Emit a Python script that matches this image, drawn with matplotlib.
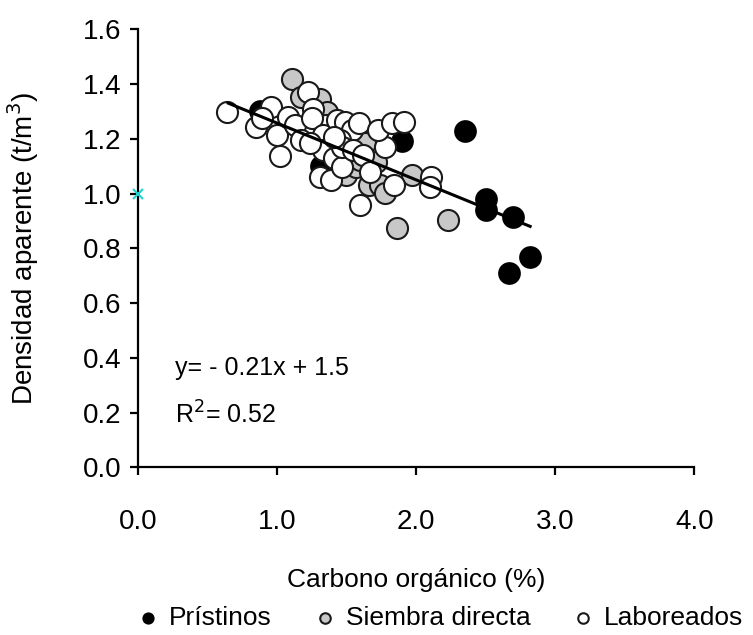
import matplotlib.pyplot as plt

plt.rcParams['font.family'] = ['Liberation Sans', 'DejaVu Sans']

# Prístinos
pri_x = [0.88, 1.32, 1.90, 2.35, 2.50, 2.50, 2.70, 2.82, 2.67]
pri_y = [1.30, 1.10, 1.19, 1.23, 0.98, 0.94, 0.915, 0.77, 0.71]

# Siembra directa
sd_x = [1.11, 1.31, 1.36, 1.17, 1.50, 1.63, 1.57, 1.66, 1.74, 1.78, 1.97, 1.86, 2.23, 1.71, 1.60]
sd_y = [1.417, 1.344, 1.299, 1.353, 1.067, 1.183, 1.098, 1.031, 1.031, 1.001, 1.067, 0.873, 0.903, 1.116, 1.122]

# Laboreados
lab_x = [0.64, 0.96, 0.85, 1.00, 1.02, 1.08, 1.13, 1.17, 1.22, 1.26, 1.35, 1.25, 1.33, 1.43,
         1.49, 1.54, 1.59, 1.45, 1.33, 1.31, 1.39, 1.41, 1.47, 1.47, 1.55, 1.62, 1.67, 1.84,
         1.78, 1.73, 1.83, 1.91, 2.11, 2.10, 1.60, 1.24, 0.89, 1.41]
lab_y = [1.299, 1.317, 1.244, 1.214, 1.137, 1.280, 1.250, 1.195, 1.372, 1.307, 1.250, 1.274,
         1.214, 1.268, 1.262, 1.232, 1.256, 1.195, 1.159, 1.061, 1.049, 1.128, 1.098, 1.171,
         1.159, 1.141, 1.080, 1.031, 1.171, 1.232, 1.256, 1.262, 1.061, 1.025, 0.958, 1.183,
         1.274, 1.207]

# recta de ajuste
line_x = [0.65, 2.82]
line_y = [1.33, 0.88]

xticks = [0, 1, 2, 3, 4]
yticks = [0, 0.2, 0.4, 0.6, 0.8, 1.0, 1.2, 1.4, 1.6]

fig = plt.figure(figsize=(7.53, 6.35), dpi=100)
ax = fig.add_axes([0.183, 0.264, 0.739, 0.690])

ms = 230
ax.scatter(pri_x, pri_y, s=ms, c='black', edgecolors='black', linewidths=1.2, zorder=3, label='Prístinos')
ax.scatter(sd_x, sd_y, s=ms, c='#c8c8c8', edgecolors='#1a1a1a', linewidths=1.5, zorder=4, label='Siembra directa')
ax.scatter(lab_x, lab_y, s=ms, c='white', edgecolors='#1a1a1a', linewidths=1.5, zorder=5, label='Laboreados')
ax.plot(line_x, line_y, color='black', lw=2.2, zorder=6)

ax.plot([0], [1.0], marker='x', color='#20d0d0', ms=7, mew=1.5, clip_on=False, zorder=7)

ax.text(0.27, 0.363, 'y= - 0.21x + 1.5', fontsize=18, va='center')
ax.text(0.27, 0.19, 'R$^2$= 0.52', fontsize=18, va='center')

ax.set_xlim(0, 4)
ax.set_ylim(0, 1.6)
ax.set_xticks(xticks)
ax.set_xticklabels(['%.1f' % v for v in xticks])
ax.set_yticks(yticks)
ax.set_yticklabels(['%.1f' % v for v in yticks])
ax.tick_params(axis='both', labelsize=20, width=1.6, length=6, direction='out')
ax.tick_params(axis='x', pad=24)
ax.tick_params(axis='y', pad=6)
ax.spines['top'].set_visible(False)
ax.spines['right'].set_visible(False)
ax.spines['left'].set_linewidth(1.6)
ax.spines['bottom'].set_linewidth(1.6)

ax.set_xlabel('Carbono orgánico (%)', fontsize=19, labelpad=24)
ax.set_ylabel('Densidad aparente (t/m$^3$)', fontsize=20, labelpad=30)

h, l = ax.get_legend_handles_labels()
fig.legend(h, l, loc='lower center', bbox_to_anchor=(0.585, -0.03), ncol=3, frameon=False,
           fontsize=19, markerscale=0.5, handlelength=0.8, handletextpad=0.4, columnspacing=1.6)

fig.savefig('out.png', dpi=100)
